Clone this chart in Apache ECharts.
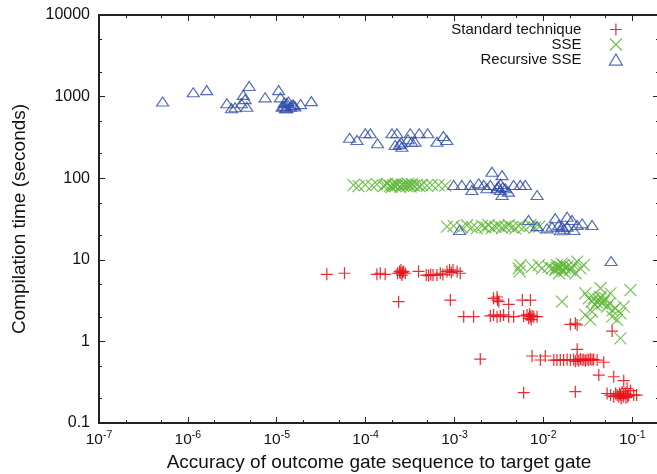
<!DOCTYPE html>
<html><head><meta charset="utf-8">
<script src="https://cdn.jsdelivr.net/npm/echarts@6/dist/echarts.min.js"></script>
<style>html,body{margin:0;padding:0;background:#fff}#c{width:657px;height:474px}</style>
</head><body><div id="c"></div>
<script>
const seriesNames = ['Standard technique', 'SSE', 'Recursive SSE'];

const standardData = [
  [3.66e-5,6.64],[5.78e-5,6.84],[1.34e-4,6.64],[1.46e-4,6.84],[1.66e-4,6.64],[2.29e-4,6.84],[2.41e-4,7.2],[2.45e-4,6.9],
  [2.5e-4,7.5],[2.56e-4,6.5],[2.6e-4,7.0],[2.67e-4,7.2],[2.79e-4,6.84],[3.94e-4,7.2],[4.81e-4,6.5],[5.11e-4,6.4],
  [5.4e-4,6.6],[5.73e-4,6.5],[6.35e-4,6.5],[6.92e-4,6.84],[7.4e-4,6.6],[8.24e-4,7.2],[8.81e-4,7.5],[9.2e-4,7.0],
  [9.62e-4,7.5],[1.07e-3,7.2],[1.16e-3,6.84],
  [2.35e-4,3.07],[8.97e-4,3.21],[1.27e-3,2.01],[1.64e-3,2.01],
  [2.75e-3,3.37],[3.01e-3,3.5],[3.05e-3,3.21],[3.15e-3,3.07],[4.07e-3,2.85],[5.8e-3,3.21],[7.14e-3,3.21],
  [2.53e-3,2.05],[2.75e-3,2.11],[3.01e-3,2.01],[3.28e-3,2.05],[3.57e-3,2.11],[4.07e-3,2.01],[4.63e-3,2.01],
  [6.0e-3,2.05],[6.55e-3,2.11],[6.83e-3,1.92],[7.0e-3,2.15],[7.14e-3,2.01],[7.3e-3,1.85],[7.46e-3,2.05],
  [7.78e-3,2.01],[8.49e-3,2.01],
  [2.01e-2,1.62],[2.29e-2,1.67],[2.4e-2,1.59],[5.94e-2,1.34],[2.4e-2,0.8],
  [1.95e-3,0.608],[7.46e-3,0.662],[9.25e-3,0.592],[1.05e-2,0.662],
  [1.31e-2,0.59],[1.42e-2,0.59],[1.55e-2,0.59],[1.69e-2,0.59],[1.85e-2,0.6],[2.01e-2,0.59],[2.19e-2,0.6],
  [2.29e-2,0.57],[2.4e-2,0.6],[2.5e-2,0.58],[2.61e-2,0.61],[2.73e-2,0.59],[2.85e-2,0.6],[2.97e-2,0.58],
  [3.1e-2,0.6],[3.24e-2,0.59],[3.38e-2,0.61],[3.53e-2,0.59],[3.68e-2,0.6],[4.03e-2,0.59],
  [4.78e-2,0.555],[4.2e-2,0.387],[6.19e-2,0.369],[8.02e-2,0.33],[6.0e-3,0.235],[2.29e-2,0.242],
  [5.21e-2,0.23],[5.69e-2,0.22],[6.19e-2,0.21],[6.5e-2,0.23],[6.76e-2,0.22],[7.05e-2,0.21],[7.2e-2,0.23],
  [7.36e-2,0.22],[7.5e-2,0.2],[7.69e-2,0.24],[7.9e-2,0.21],[8.02e-2,0.22],[8.38e-2,0.23],[8.5e-2,0.205],
  [8.75e-2,0.266],[8.9e-2,0.21],[9.14e-2,0.22],[9.55e-2,0.25],[1.04e-1,0.22],[1.12e-1,0.22]
];

const sseData = [
  [7.31e-5,82],[8.32e-5,80],[9.9e-5,83],[1.18e-4,81],[1.34e-4,84],[1.59e-4,80],[1.65e-4,83],[1.74e-4,85],
  [1.89e-4,81],[1.95e-4,78],[2.03e-4,83],[2.15e-4,80],[2.2e-4,85],[2.29e-4,82],[2.45e-4,79],[2.55e-4,84],
  [2.63e-4,81],[2.79e-4,83],[2.92e-4,80],[3.0e-4,85],[3.12e-4,82],[3.2e-4,79],[3.32e-4,84],[3.52e-4,81],
  [3.78e-4,83],[4.05e-4,80],[4.31e-4,82],[4.9e-4,81],[5.58e-4,83],[6.62e-4,82],[7.87e-4,81],
  [8.24e-4,25.5],[9.78e-4,26],[1.21e-3,25],[1.38e-3,26.5],[1.57e-3,25],[1.79e-3,24.5],[2.04e-3,26],[2.22e-3,25],
  [2.42e-3,26.5],[2.64e-3,24.5],[2.88e-3,25.5],[3.14e-3,26],[3.43e-3,24.8],[3.73e-3,25.5],[4.07e-3,26.5],
  [4.44e-3,25],[4.84e-3,24.3],[5.27e-3,25.8],[6.0e-3,25],[7.14e-3,26.5],[8.0e-3,24.8],[9.0e-3,25.5],
  [5.27e-3,7.87],[5.51e-3,8.63],[5.4e-3,7.2],[7.46e-3,8.2],[8.85e-3,8.63],[9.66e-3,7.87],[1.15e-2,8.2],
  [1.25e-2,7.87],[1.36e-2,7.5],[1.4e-2,8.0],[1.42e-2,8.63],[1.49e-2,7.87],[1.5e-2,6.84],[1.55e-2,8.2],
  [1.6e-2,9.0],[1.62e-2,7.5],[1.69e-2,8.63],[1.7e-2,7.2],[1.77e-2,7.87],[1.85e-2,8.2],[2.01e-2,7.5],
  [2.1e-2,8.0],[2.19e-2,8.63],[2.3e-2,6.84],[2.4e-2,9.5],[2.61e-2,7.87],[2.85e-2,8.63],
  [1.62e-2,3.07],[2.97e-2,3.88],[3.24e-2,3.37],[3.53e-2,3.07],[3.7e-2,3.4],[3.85e-2,2.79],[4.0e-2,3.0],
  [4.2e-2,3.21],[4.4e-2,3.5],[4.58e-2,2.93],[4.8e-2,3.1],[4.99e-2,3.37],[5.21e-2,2.66],[4.39e-2,4.48],
  [5.5e-2,2.9],[5.69e-2,3.88],[6.0e-2,2.4],[6.47e-2,2.55],[7.36e-2,2.21],[8.02e-2,2.66],[9.55e-2,4.26],
  [2.97e-2,2.11],[3.38e-2,1.83],[3.53e-2,2.31],[5.94e-2,2.01],[6.76e-2,1.83],[7.36e-2,1.09]
];

const recursiveData = [
  [5.2e-7,870],[1.15e-6,1130],[1.63e-6,1200],[2.75e-6,830],[3.1e-6,720],[3.4e-6,740],[4.0e-6,830],[4.2e-6,1050],
  [4.4e-6,930],[4.6e-6,750],[4.9e-6,1350],[7.4e-6,980],[1.05e-5,1200],[1.1e-5,980],[1.15e-5,750],[1.2e-5,770],
  [1.22e-5,850],[1.25e-5,720],[1.3e-5,830],[1.3e-5,720],[1.35e-5,870],[1.42e-5,750],[1.5e-5,800],[1.55e-5,790],
  [1.6e-5,760],[1.85e-5,810],[2.45e-5,880],
  [6.6e-5,313],[8.0e-5,294],[9.9e-5,355],[1.13e-4,355],[1.36e-4,268],[1.98e-4,355],[2.15e-4,255],[2.25e-4,355],
  [2.4e-4,262],[2.52e-4,275],[2.56e-4,243],[3.0e-4,300],[3.18e-4,355],[3.3e-4,280],[3.6e-4,280],[4.0e-4,355],
  [5.0e-4,355],[6.35e-4,280],[7.5e-4,329],[8.2e-4,294],
  [9.8e-4,82.6],[1.21e-3,82.6],[1.51e-3,82.6],[1.57e-3,71.7],[1.87e-3,86.5],[2.13e-3,82.6],[2.32e-3,75.2],
  [2.53e-3,82.6],[2.64e-3,120],[3.0e-3,75.2],[3.1e-3,80],[3.28e-3,71.7],[3.3e-3,85],[3.43e-3,109],[3.43e-3,62.2],
  [3.5e-3,78],[3.73e-3,75.2],[4.04e-3,68.4],[4.63e-3,82.6],[5.5e-3,82.6],[6.27e-3,82.6],[8.5e-3,62.2],
  [1.14e-3,23.2],[6.82e-3,30.8],[8.49e-3,25.9],[1.1e-2,24.3],[1.25e-2,25.5],[1.36e-2,32.3],[1.49e-2,26.7],
  [1.55e-2,23],[1.62e-2,25.5],[1.7e-2,24],[1.85e-2,33.7],[1.85e-2,25.5],[2.1e-2,30.8],[2.2e-2,23.2],[2.4e-2,26.7],
  [2.73e-2,28],[3.53e-2,26.7],
  [5.78e-2,9.66]
];

const xMajorTicks = [1e-7, 1e-6, 1e-5, 1e-4, 1e-3, 1e-2, 1e-1];
const xMinorTicks = [2e-7, 5e-7, 2e-6, 5e-6, 2e-5, 5e-5, 2e-4, 5e-4, 2e-3, 5e-3, 2e-2, 5e-2];
const yMajorTicks = [0.1, 1, 10, 100, 1000, 10000];
const yMinorTicks = [0.2, 0.5, 2, 5, 20, 50, 200, 500, 2000, 5000];

const FONT = '"Liberation Sans", Arial, Helvetica, sans-serif';
const TXT = '#111';
const AX = '#222';
const colors = ['#e8141b', '#62b83c', '#2c48a8'];
const X_MIN = 1e-7, X_MAX = 0.2, Y_MIN = 0.1, Y_MAX = 10000;

function tickAxis(kind, pos, major, showLine, showLabel) {
  const ax = {
    type: 'log', logBase: 10, min: kind === 'x' ? X_MIN : Y_MIN, max: kind === 'x' ? X_MAX : Y_MAX,
    position: pos,
    axisLine: {show: showLine, onZero: false, lineStyle: {color: AX, width: 2}},
    axisTick: {show: true, inside: true, length: major ? 6 : 3,
      customValues: kind === 'x' ? (major ? xMajorTicks : xMinorTicks) : (major ? yMajorTicks : yMinorTicks),
      lineStyle: {color: AX, width: 1}},
    axisLabel: {show: false},
    splitLine: {show: false},
    minorTick: {show: false},
    minorSplitLine: {show: false}
  };
  if (showLabel) {
    if (kind === 'x') {
      ax.axisLabel = {
        show: true, margin: 7, customValues: xMajorTicks,
        formatter: v => '{b|10}{s|' + Math.round(Math.log10(v)) + '}',
        rich: {
          b: {fontSize: 15.5, lineHeight: 20, fontFamily: FONT, color: TXT},
          s: {fontSize: 10.5, lineHeight: 5, verticalAlign: 'top', fontFamily: FONT, color: TXT}
        }
      };
      ax.name = 'Accuracy of outcome gate sequence to target gate';
      ax.nameLocation = 'middle';
      ax.nameGap = 30;
      ax.nameTextStyle = {fontSize: 19, fontFamily: FONT, color: TXT};
    } else {
      ax.axisLabel = {
        show: true, margin: 9, customValues: yMajorTicks,
        formatter: v => String(Number(v.toPrecision(6))),
        fontSize: 16, fontFamily: FONT, color: TXT
      };
      ax.name = 'Compilation time (seconds)';
      ax.nameLocation = 'middle';
      ax.nameGap = 70;
      ax.nameTextStyle = {fontSize: 19, fontFamily: FONT, color: TXT};
    }
  }
  return ax;
}

const plusPath = 'path://M0,6L12,6M6,0L6,12';
const crossPath = 'path://M0,0L12,12M12,0L0,12';
const triPath = 'path://M6,0L12,10.4L0,10.4Z';

const chart = echarts.init(document.getElementById('c'), null, {renderer: 'canvas'});
chart.setOption({
  animation: false,
  backgroundColor: '#fff',
  grid: {left: 99, top: 15, width: 560, height: 408, outerBoundsMode: 'none', containLabel: false},
  xAxis: [
    tickAxis('x', 'bottom', true, true, true),
    tickAxis('x', 'bottom', false, false, false),
    tickAxis('x', 'top', true, true, false),
    tickAxis('x', 'top', false, false, false)
  ],
  yAxis: [
    tickAxis('y', 'left', true, true, true),
    tickAxis('y', 'left', false, false, false),
    tickAxis('y', 'right', true, true, false),
    tickAxis('y', 'right', false, false, false)
  ],
  legend: {
    orient: 'vertical', right: 29, top: 17, align: 'right', itemGap: 0,
    itemWidth: 13, itemHeight: 12, selectedMode: false,
    data: seriesNames,
    itemStyle: {borderWidth: 1.2},
    formatter: n => '{t|' + n + '}',
    textStyle: {rich: {t: {fontSize: 15, lineHeight: 14.6, padding: [0, 23, 0, 0], fontFamily: FONT, color: TXT}}}
  },
  series: [
    {name: seriesNames[0], type: 'scatter', data: standardData, symbol: plusPath, symbolSize: 12,
     itemStyle: {color: colors[0], borderColor: colors[0], borderWidth: 1.2, opacity: 0.9}, emphasis: {disabled: true}},
    {name: seriesNames[1], type: 'scatter', data: sseData, symbol: crossPath, symbolSize: 12,
     itemStyle: {color: colors[1], borderColor: colors[1], borderWidth: 1.1, opacity: 0.9}, emphasis: {disabled: true}},
    {name: seriesNames[2], type: 'scatter', data: recursiveData, symbol: triPath, symbolSize: [12, 10.4], symbolKeepAspect: true,
     itemStyle: {color: 'rgba(255,255,255,0)', borderColor: colors[2], borderWidth: 1.2}, emphasis: {disabled: true}}
  ]
});
</script></body></html>
